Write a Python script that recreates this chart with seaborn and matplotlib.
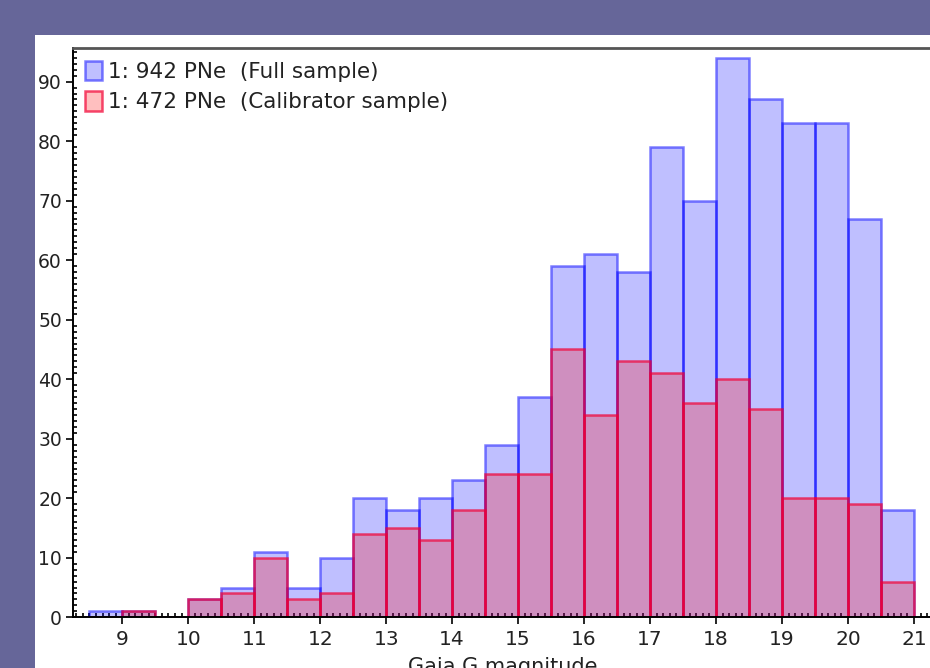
import numpy as np
import pandas as pd
import seaborn as sns
import matplotlib.pyplot as plt
from matplotlib.patches import Rectangle
from matplotlib.ticker import MultipleLocator

# Gaia G magnitude bins (0.5 mag wide)
bin_edges = [8.5, 9.0, 9.5, 10.0, 10.5, 11.0, 11.5, 12.0, 12.5, 13.0, 13.5,
             14.0, 14.5, 15.0, 15.5, 16.0, 16.5, 17.0, 17.5, 18.0, 18.5,
             19.0, 19.5, 20.0, 20.5, 21.0]

# Counts per bin
full_counts = [1, 1, 0, 3, 5, 11, 5, 10, 20, 18, 20, 23, 29, 37, 59, 61, 58,
               79, 70, 94, 87, 83, 83, 67, 18]
calib_counts = [0, 1, 0, 3, 4, 10, 3, 4, 14, 15, 13, 18, 24, 24, 45, 34, 43,
                41, 36, 40, 35, 20, 20, 19, 6]

full_label = "1: 942 PNe  (Full sample)"
calib_label = "1: 472 PNe  (Calibrator sample)"
x_label = "Gaia G magnitude"
x_ticks = [9, 10, 11, 12, 13, 14, 15, 16, 17, 18, 19, 20, 21]
y_ticks = [0, 10, 20, 30, 40, 50, 60, 70, 80, 90]

edges = np.array(bin_edges)
centers = (edges[:-1] + edges[1:]) / 2
df = pd.DataFrame({"mag": centers, "full": full_counts, "calib": calib_counts})

sns.set_theme(style="white")
plt.rcParams["font.family"] = ["DejaVu Sans"]

W, H = 930, 668
fig = plt.figure(figsize=(W / 100, H / 100), dpi=100)
fig.patch.set_facecolor("#666699")
# white panel behind the chart
fig.patches.append(Rectangle((35 / W, 0), 1 - 35 / W, (H - 35) / H,
                             transform=fig.transFigure, facecolor="white",
                             edgecolor="none", zorder=-10))

ax_left, ax_right = 73, 932
ax_top, ax_bottom = 48.3, 617.3
ax = fig.add_axes([ax_left / W, (H - ax_bottom) / H,
                   (ax_right - ax_left) / W, (ax_bottom - ax_top) / H])
ax.set_facecolor("white")

sns.histplot(data=df, x="mag", weights="full", bins=list(bin_edges), ax=ax,
             facecolor=(0, 0, 1, 0.25), edgecolor=(0, 0, 1, 0.5),
             linewidth=1.8, label=full_label)
sns.histplot(data=df, x="mag", weights="calib", bins=list(bin_edges), ax=ax,
             facecolor=(1, 0, 0, 0.25), edgecolor=(0.95, 0, 0.2, 0.7),
             linewidth=1.8, label=calib_label)

px_per_mag = 65.97
x0 = 9 - (122.3 - ax_left) / px_per_mag
x1 = 9 + (ax_right - 122.3) / px_per_mag
ax.set_xlim(x0, x1)
ax.set_ylim(0, 95.6)

ax.set_xticks(x_ticks)
ax.set_yticks(y_ticks)
ax.xaxis.set_minor_locator(MultipleLocator(0.1))
ax.yaxis.set_minor_locator(MultipleLocator(1))
ax.tick_params(axis="both", which="major", direction="out", length=5,
               width=1.2, color="black", labelcolor="#222222",
               bottom=True, left=True, top=False, right=False)
ax.tick_params(axis="x", which="major", pad=4, labelsize=14.5)
ax.tick_params(axis="y", which="major", pad=3, labelsize=13.5)
ax.tick_params(axis="both", which="minor", direction="in", length=3,
               width=1.2, color="black", bottom=True, left=True,
               top=False, right=False)

for side in ["left", "bottom"]:
    ax.spines[side].set_color("black")
    ax.spines[side].set_linewidth(1.4)
ax.spines["top"].set_color("#555555")
ax.spines["top"].set_linewidth(2.0)
ax.spines["right"].set_visible(False)

ax.set_ylabel("")
ax.set_xlabel(x_label, fontsize=15, color="#222222", labelpad=6)

ax.legend(loc="upper left", frameon=False, fontsize=15.5,
          handlelength=0.75, handleheight=1.0, handletextpad=0.28,
          labelspacing=0.45, borderaxespad=0.2, borderpad=0.38,
          labelcolor="#222222")

fig.savefig("out.png", dpi=100, facecolor=fig.get_facecolor())
